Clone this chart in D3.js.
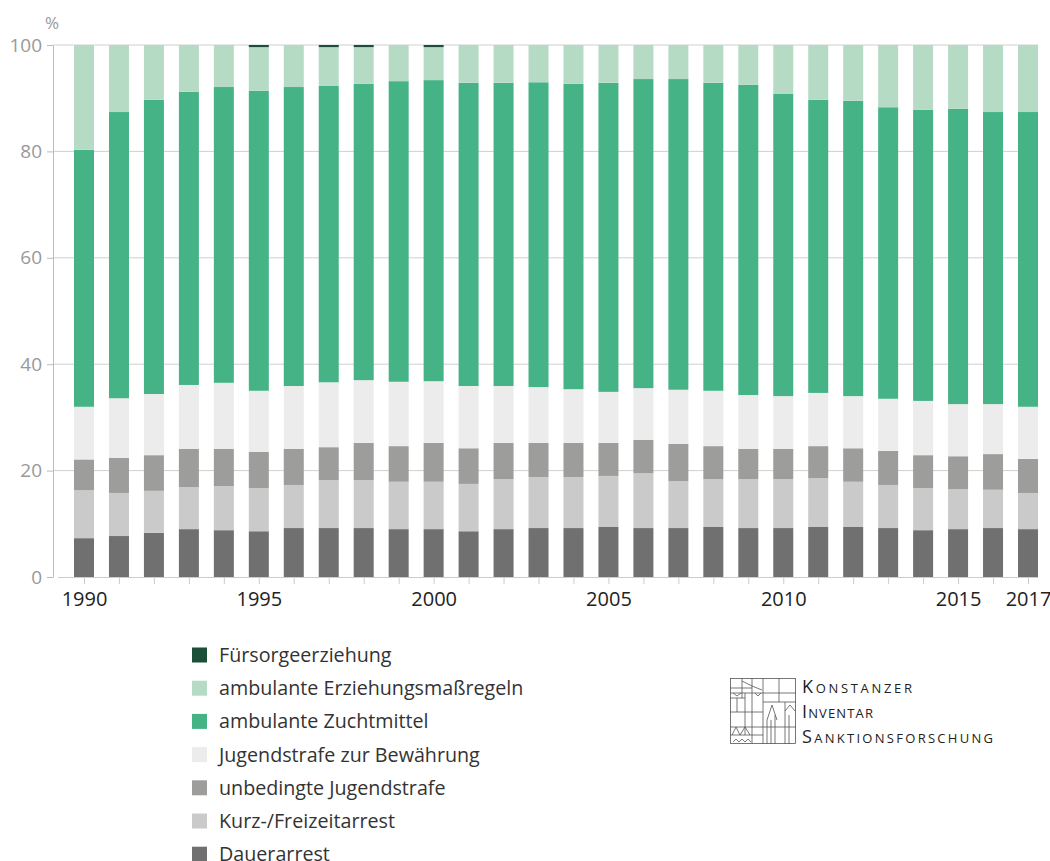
<!DOCTYPE html>
<html><head><meta charset="utf-8">
<script src="https://cdn.jsdelivr.net/npm/d3@7"></script>
<style>body{margin:0;background:#fff} svg{display:block} text{font-family:"Open Sans",sans-serif}</style>
</head><body><svg id="c" width="1050" height="861"></svg>
<script>
const years = [1990,1991,1992,1993,1994,1995,1996,1997,1998,1999,2000,2001,2002,2003,2004,2005,2006,2007,2008,2009,2010,2011,2012,2013,2014,2015,2016,2017];
const xTickLabels = [1990,1995,2000,2005,2010,2015,2017];
const yTicks = [0,20,40,60,80,100];

const dauerarrest      = [7.3,7.7,8.3,9.0,8.8,8.6,9.2,9.2,9.2,9.0,9.0,8.6,9.0,9.2,9.2,9.4,9.2,9.2,9.4,9.2,9.2,9.4,9.4,9.2,8.8,9.0,9.2,9.0];
const kurzFreizeit     = [9.0,8.1,7.9,7.9,8.3,8.1,8.1,9.0,9.0,8.9,8.9,8.9,9.4,9.6,9.6,9.6,10.3,8.8,9.0,9.2,9.2,9.2,8.5,8.1,7.9,7.5,7.2,6.8];
const unbedingt        = [5.8,6.6,6.7,7.2,7.0,6.8,6.8,6.2,7.0,6.7,7.3,6.7,6.8,6.4,6.4,6.2,6.3,7.0,6.2,5.7,5.7,6.0,6.3,6.4,6.2,6.2,6.7,6.4];
const bewaehrung       = [9.9,11.2,11.5,12.0,12.4,11.5,11.8,12.2,11.8,12.1,11.6,11.7,10.7,10.5,10.1,9.6,9.7,10.2,10.4,10.1,9.9,10.0,9.8,9.8,10.2,9.8,9.4,9.8];
const zuchtmittel      = [48.3,53.8,55.3,55.1,55.6,56.4,56.2,55.7,55.7,56.5,56.6,57.0,57.0,57.3,57.4,58.1,58.1,58.4,57.9,58.3,56.8,55.1,55.5,54.8,54.7,55.5,54.9,55.4];
const erziehung        = [19.7,12.6,10.3,8.8,7.9,8.2,7.9,7.3,6.9,6.8,6.2,7.1,7.1,7.0,7.3,7.1,6.4,6.4,7.1,7.5,9.2,10.3,10.5,11.7,12.2,12.0,12.6,12.6];
const fuersorge        = [0,0,0,0,0,0.4,0,0.4,0.4,0,0.4,0,0,0,0,0,0,0,0,0,0,0,0,0,0,0,0,0];

const seriesNames = ["Dauerarrest","Kurz-/Freizeitarrest","unbedingte Jugendstrafe","Jugendstrafe zur Bewährung","ambulante Zuchtmittel","ambulante Erziehungsmaßregeln","Fürsorgeerziehung"];
const seriesValues = [dauerarrest,kurzFreizeit,unbedingt,bewaehrung,zuchtmittel,erziehung,fuersorge];
const colors = ["#707070","#cacaca","#9d9d9b","#ececec","#46b387","#b6dbc5","#1c4f39"];

const table = years.map((yr,i)=>{ const o={year:yr}; seriesNames.forEach((n,k)=>o[n]=seriesValues[k][i]); return o; });
const stack = d3.stack().keys(seriesNames)(table);

const svg = d3.select("#c");
const x = d3.scaleLinear().domain([1990,2017]).range([84,1028]);
const y = d3.scaleLinear().domain([0,100]).range([577,45]);
const barW = 20;

// gridlines
svg.append("g").selectAll("line").data(yTicks.filter(d=>d>0)).join("line")
  .attr("x1",53).attr("x2",1038).attr("y1",d=>y(d)).attr("y2",d=>y(d))
  .attr("stroke","#d0d0d0").attr("stroke-width",1);

// bars
svg.append("g").selectAll("g").data(stack).join("g").attr("fill",(d,i)=>colors[i])
  .selectAll("rect").data(d=>d).join("rect")
  .attr("x",d=>x(d.data.year)-barW/2).attr("width",barW)
  .attr("y",d=>y(d[1])).attr("height",d=>Math.max(0,y(d[0])-y(d[1])));

// y axis
const ya = svg.append("g").attr("transform","translate(53,0)")
  .call(d3.axisLeft(y).tickValues(yTicks).tickSize(6).tickSizeOuter(0).tickPadding(5));
ya.select(".domain").attr("stroke","#bbb");
ya.selectAll(".tick line").attr("stroke","#bbb");
ya.selectAll("text").attr("fill","#999").attr("font-size",19).attr("font-family","Open Sans");

svg.append("text").attr("x",52).attr("y",29).attr("text-anchor","middle")
  .attr("fill","#999").attr("font-size",17).text("%");

// x axis
const xa = svg.append("g").attr("transform","translate(0,577)")
  .call(d3.axisBottom(x).tickValues(years).tickSize(7).tickSizeOuter(0).tickPadding(8)
    .tickFormat(d=>xTickLabels.includes(d)?String(d):""));
xa.select(".domain").remove();
xa.selectAll(".tick line").attr("stroke","#ccc");
xa.selectAll("text").attr("fill","#222").attr("font-size",20).attr("font-family","Open Sans");
svg.append("line").attr("x1",58).attr("x2",1038).attr("y1",577.5).attr("y2",577.5).attr("stroke","#ccc");

// legend
const legendOrder = seriesNames.map((n,i)=>({n,c:colors[i]})).reverse();
const lg = svg.append("g").selectAll("g").data(legendOrder).join("g")
  .attr("transform",(d,i)=>`translate(192,${655+i*33.2})`);
lg.append("rect").attr("x",0).attr("y",-7.5).attr("width",15).attr("height",15).attr("fill",d=>d.c);
lg.append("text").attr("x",27).attr("y",7).attr("fill","#333").attr("font-size",19.7).text(d=>d.n);

// logo
const logo = svg.append("g").attr("fill","none").attr("stroke","#555").attr("stroke-width",0.8);
logo.append("rect").attr("x",730.5).attr("y",678.5).attr("width",65).attr("height",65);
const segs = [
  [730,688,752,688],[730,693,796,693],[730,698,745,698],[752,678,752,712],[742,678,742,698],
  [763,678,763,744],[779,678,779,702],[730,712,763,712],[730,727,763,727],[763,702,796,702],
  [745,693,745,735],[737,698,737,712],[752,712,752,744],[730,735,763,735],[785,702,785,744],
  [771,720,771,744],[775,715,775,744],[767,720,767,744],[789,715,789,744],[763,727,796,727]
];
logo.selectAll("line").data(segs).join("line")
  .attr("x1",d=>d[0]).attr("y1",d=>d[1]).attr("x2",d=>d[2]).attr("y2",d=>d[3]);
logo.append("path").attr("d","M742,681 L752,686 M752,686 L762,690 M732,735 L736,727 L740,735 L745,727 L750,735 M767,720 L772,705 L777,720 M785,711 L790,705 L795,711 M733,693 L737,696 L741,693 M755,693 L758,696 L761,693 M733,742 L736,739 L739,742 L742,739 L745,742 L748,739 L751,742");
const logoLines = ["Konstanzer","Inventar","Sanktionsforschung"];
const logoWidths = [110,71,191];
svg.append("g").selectAll("text").data(logoLines).join("text")
  .attr("x",802).attr("y",(d,i)=>693+i*25)
  .attr("font-family","Liberation Serif, DejaVu Serif, serif")
  .attr("font-size",18).attr("font-variant","small-caps").attr("fill","#222")
  .attr("textLength",(d,i)=>logoWidths[i]).attr("lengthAdjust","spacing")
  .text(d=>d);
</script></body></html>
